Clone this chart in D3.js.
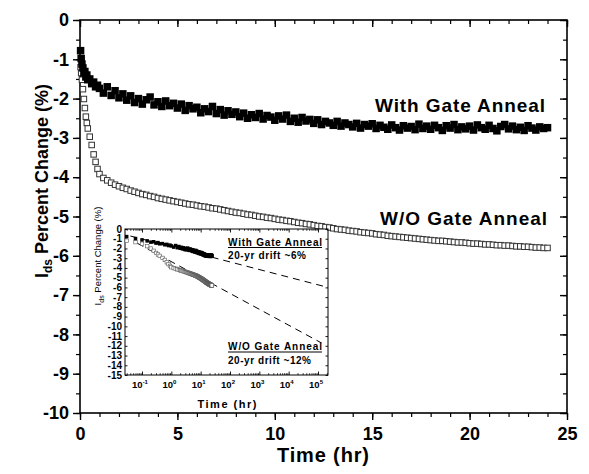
<!DOCTYPE html>
<html>
<head>
<meta charset="utf-8">
<script src="https://cdn.jsdelivr.net/npm/d3@7"></script>
<style>
  body { margin: 0; background: #fff; }
  svg { display: block; }
  text { font-family: Arial, "Liberation Sans", sans-serif; }
</style>
</head>
<body>
<div id="root"></div>
<script>
// sample times (hr), shared by both series
const hours = [
  0.03, 0.06, 0.1, 0.15, 0.2, 0.25, 0.3, 0.35, 0.4, 0.5, 0.6, 0.7, 0.8, 0.9,
  1, 1.2, 1.4, 1.6, 1.8,   2, 2.2, 2.4, 2.6, 2.8,   3, 3.2, 3.4, 3.6, 3.8,
  4, 4.2, 4.4, 4.6, 4.8,   5, 5.2, 5.4, 5.6, 5.8,   6, 6.2, 6.4, 6.6, 6.8,
  7, 7.2, 7.4, 7.6, 7.8,   8, 8.2, 8.4, 8.6, 8.8,   9, 9.2, 9.4, 9.6, 9.8,
  10, 10.2, 10.4, 10.6, 10.8,   11, 11.2, 11.4, 11.6, 11.8,   12, 12.2, 12.4, 12.6, 12.8,
  13, 13.2, 13.4, 13.6, 13.8,   14, 14.2, 14.4, 14.6, 14.8,   15, 15.2, 15.4, 15.6, 15.8,
  16, 16.2, 16.4, 16.6, 16.8,   17, 17.2, 17.4, 17.6, 17.8,   18, 18.2, 18.4, 18.6, 18.8,
  19, 19.2, 19.4, 19.6, 19.8,   20, 20.2, 20.4, 20.6, 20.8,   21, 21.2, 21.4, 21.6, 21.8,
  22, 22.2, 22.4, 22.6, 22.8,   23, 23.2, 23.4, 23.6, 23.8,   24
];

// With Gate Anneal (%)
const withAnneal = [
  -0.78, -0.98, -1.12, -1.22, -1.35, -1.31, -1.45, -1.40, -1.52, -1.50, -1.62, -1.58, -1.70, -1.66,
  -1.74, -1.86, -1.70, -1.92, -1.80,   -1.98, -1.88, -2.04, -1.93, -2.10,   -2.00, -2.14, -2.03, -1.96, -2.16,
  -2.08, -2.20, -2.06, -2.18, -2.12,   -2.24, -2.14, -2.30, -2.18, -2.26,   -2.22, -2.36, -2.26, -2.33, -2.20,
  -2.38, -2.28, -2.42, -2.31, -2.40,   -2.34, -2.46, -2.37, -2.50, -2.41,   -2.48, -2.38, -2.52, -2.43, -2.47,
  -2.55, -2.44, -2.52, -2.42, -2.58,   -2.50, -2.60, -2.48, -2.57, -2.53,   -2.63, -2.54, -2.66, -2.58, -2.62,
  -2.68, -2.58, -2.70, -2.62, -2.66,   -2.72, -2.63, -2.75, -2.66, -2.70,   -2.64, -2.76, -2.68, -2.73, -2.78,
  -2.67, -2.74, -2.80, -2.69, -2.75,   -2.71, -2.79, -2.65, -2.76, -2.70,   -2.78, -2.68, -2.74, -2.81, -2.69,
  -2.75, -2.66, -2.79, -2.72, -2.77,   -2.70, -2.80, -2.67, -2.74, -2.78,   -2.68, -2.76, -2.82, -2.71, -2.66,
  -2.77, -2.70, -2.79, -2.73, -2.81,   -2.69, -2.75, -2.80, -2.72, -2.76,   -2.74
];

// W/O Gate Anneal (%)
const withoutAnneal = [
  -1.20, -1.35, -1.52, -1.76, -2.01, -2.24, -2.46, -2.62, -2.76, -2.97, -3.18, -3.42, -3.61, -3.79,
  -3.92, -4.02, -4.08, -4.14, -4.19,   -4.23, -4.27, -4.30, -4.34, -4.37,   -4.40, -4.43, -4.45, -4.48, -4.50,
  -4.53, -4.55, -4.57, -4.59, -4.61,   -4.63, -4.65, -4.67, -4.69, -4.70,   -4.72, -4.74, -4.75, -4.77, -4.79,
  -4.80, -4.82, -4.84, -4.86, -4.88,   -4.90, -4.91, -4.93, -4.95, -4.96,   -4.98, -5.00, -5.01, -5.03, -5.04,
  -5.06, -5.08, -5.09, -5.11, -5.12,   -5.14, -5.16, -5.17, -5.19, -5.20,   -5.22, -5.24, -5.25, -5.27, -5.28,
  -5.30, -5.32, -5.33, -5.34, -5.36,   -5.37, -5.38, -5.40, -5.41, -5.42,   -5.43, -5.45, -5.46, -5.47, -5.49,
  -5.50, -5.51, -5.52, -5.53, -5.54,   -5.55, -5.56, -5.57, -5.58, -5.59,   -5.60, -5.61, -5.62, -5.62, -5.63,
  -5.64, -5.65, -5.66, -5.66, -5.67,   -5.68, -5.69, -5.69, -5.70, -5.71,   -5.71, -5.72, -5.73, -5.73, -5.74,
  -5.74, -5.75, -5.76, -5.76, -5.77,   -5.77, -5.78, -5.79, -5.79, -5.80,   -5.80
];

// 20-yr extrapolation lines in the inset
const withFitHours = [0.04, 219000];
const withFitPct = [-0.72, -6.0];
const woFitHours = [0.068, 130000];
const woFitPct = [-1.45, -11.7];

const mainXTicks = [0, 5, 10, 15, 20, 25];
const mainYTicks = [0, -1, -2, -3, -4, -5, -6, -7, -8, -9, -10];
const insetYTicks = [0, -1, -2, -3, -4, -5, -6, -7, -8, -9, -10, -11, -12, -13, -14, -15];
const insetXTicks = [0.1, 1, 10, 100, 1000, 10000, 100000];
const insetXExp = ["-1", "0", "1", "2", "3", "4", "5"];

const W = 589, H = 474;
const svg = d3.select("#root").append("svg").attr("width", W).attr("height", H);

// ---------- main plot ----------
const x = d3.scaleLinear().domain([0, 25]).range([80, 567]);
const y = d3.scaleLinear().domain([-10, 0]).range([413, 20]);

const styleAxis = (g, sw) => {
  g.select(".domain").remove();
  g.selectAll(".tick line").attr("stroke", "#000").attr("stroke-width", sw);
};

svg.append("g").attr("transform", "translate(0,413)")
  .call(d3.axisBottom(x).tickValues(d3.range(0, 26, 1)).tickSize(4).tickFormat(""))
  .call(g => styleAxis(g, 1.2));
svg.append("g").attr("transform", "translate(0,413)")
  .call(d3.axisBottom(x).tickValues(mainXTicks).tickSize(7).tickPadding(7).tickFormat(d3.format("d")))
  .call(g => styleAxis(g, 1.4))
  .call(g => g.selectAll("text").attr("font-size", 18).attr("font-weight", "bold").attr("fill", "#000"));

svg.append("g").attr("transform", "translate(80,0)")
  .call(d3.axisLeft(y).tickValues(d3.range(-10, 0.01, 0.5)).tickSize(4).tickFormat(""))
  .call(g => styleAxis(g, 1.2));
svg.append("g").attr("transform", "translate(80,0)")
  .call(d3.axisLeft(y).tickValues(mainYTicks).tickSize(7).tickPadding(4).tickFormat(d => d === 0 ? "0" : "-" + Math.abs(d)))
  .call(g => styleAxis(g, 1.4))
  .call(g => g.selectAll("text").attr("font-size", 18).attr("font-weight", "bold").attr("fill", "#000"));

svg.append("g").attr("transform", "translate(0,20)")
  .call(d3.axisTop(x).tickValues(d3.range(0, 26, 1)).tickSize(-4).tickFormat(""))
  .call(g => styleAxis(g, 1.2));
svg.append("g").attr("transform", "translate(0,20)")
  .call(d3.axisTop(x).tickValues(mainXTicks).tickSize(-7).tickFormat(""))
  .call(g => styleAxis(g, 1.4));
svg.append("g").attr("transform", "translate(567,0)")
  .call(d3.axisRight(y).tickValues(d3.range(-10, 0.01, 0.5)).tickSize(-4).tickFormat(""))
  .call(g => styleAxis(g, 1.2));
svg.append("g").attr("transform", "translate(567,0)")
  .call(d3.axisRight(y).tickValues(mainYTicks).tickSize(-7).tickFormat(""))
  .call(g => styleAxis(g, 1.4));

svg.append("rect").attr("x", 80).attr("y", 20).attr("width", 487).attr("height", 393)
  .attr("fill", "none").attr("stroke", "#000").attr("stroke-width", 1.6);

// W/O series: open squares
const sOpen = 5.5;
svg.append("g").selectAll("rect")
  .data(hours.map((t, i) => [t, withoutAnneal[i]]))
  .join("rect")
  .attr("x", d => x(d[0]) - sOpen / 2).attr("y", d => y(d[1]) - sOpen / 2)
  .attr("width", sOpen).attr("height", sOpen)
  .attr("fill", "#fff").attr("stroke", "#333").attr("stroke-width", 1);

// With gate anneal series: filled squares
const sFill = 7.5;
svg.append("g").selectAll("rect")
  .data(hours.map((t, i) => [t, withAnneal[i]]))
  .join("rect")
  .attr("x", d => x(d[0]) - sFill / 2).attr("y", d => y(d[1]) - sFill / 2)
  .attr("width", sFill).attr("height", sFill)
  .attr("fill", "#000");

svg.append("text").attr("x", 545).attr("y", 112).attr("text-anchor", "end")
  .attr("font-size", 19).attr("font-weight", "bold").attr("textLength", 170)
  .text("With Gate Anneal");
svg.append("text").attr("x", 547).attr("y", 225).attr("text-anchor", "end")
  .attr("font-size", 19).attr("font-weight", "bold").attr("textLength", 167)
  .text("W/O Gate Anneal");

svg.append("text").attr("x", 323).attr("y", 462).attr("text-anchor", "middle")
  .attr("font-size", 20).attr("font-weight", "bold").attr("textLength", 92).text("Time (hr)");

const yTitle = svg.append("text")
  .attr("transform", "translate(48,181) rotate(-90)")
  .attr("text-anchor", "middle").attr("font-weight", "bold").attr("font-size", 18);
yTitle.append("tspan").text("I");
yTitle.append("tspan").attr("font-size", 12).attr("dy", 4).text("ds");
yTitle.append("tspan").attr("dy", -4).text("  Percent Change (%)");

// ---------- inset ----------
const ix = d3.scaleLog().domain([0.0263, 219000]).range([125, 328]);
const iy = d3.scaleLinear().domain([-15, 0]).range([375, 229]);

svg.append("rect").attr("x", 125).attr("y", 229).attr("width", 203).attr("height", 146)
  .attr("fill", "#fff").attr("stroke", "none");

const minorLog = [];
[0.01, 0.1, 1, 10, 100, 1000, 10000, 100000].forEach(dec => {
  for (let k = 2; k <= 9; k++) {
    const v = dec * k;
    if (v > 0.0263 && v < 219000) minorLog.push(v);
  }
});

[[375, d3.axisBottom], [229, d3.axisTop]].forEach(([py, ax]) => {
  svg.append("g").attr("transform", `translate(0,${py})`)
    .call(ax(ix).tickValues(minorLog).tickSize(-1.8).tickFormat(""))
    .call(g => styleAxis(g, 0.8));
  svg.append("g").attr("transform", `translate(0,${py})`)
    .call(ax(ix).tickValues(insetXTicks).tickSize(-3.5).tickFormat(""))
    .call(g => styleAxis(g, 0.9));
});
svg.append("g").attr("transform", "translate(125,0)")
  .call(d3.axisLeft(iy).tickValues(insetYTicks).tickSize(-2.5).tickFormat(""))
  .call(g => styleAxis(g, 0.9));
svg.append("g").attr("transform", "translate(328,0)")
  .call(d3.axisRight(iy).tickValues(insetYTicks).tickSize(-2.5).tickFormat(""))
  .call(g => styleAxis(g, 0.9));

svg.append("rect").attr("x", 125).attr("y", 229).attr("width", 203).attr("height", 146)
  .attr("fill", "none").attr("stroke", "#000").attr("stroke-width", 1);

svg.append("g").selectAll("text").data(insetYTicks).join("text")
  .attr("x", 122).attr("y", d => iy(d)).attr("dy", "0.35em")
  .attr("text-anchor", "end").attr("font-size", 10).attr("font-weight", "bold")
  .text(d => d === 0 ? "0" : "-" + Math.abs(d));

const xl = svg.append("g").selectAll("text").data(insetXTicks).join("text")
  .attr("x", d => ix(d) - 2).attr("y", 388)
  .attr("text-anchor", "middle").attr("font-size", 9.5).attr("font-weight", "bold");
xl.append("tspan").text("10");
xl.append("tspan").attr("font-size", 6).attr("dy", -4.5).text((d, i) => insetXExp[i]);

svg.append("text").attr("x", 227).attr("y", 408).attr("text-anchor", "middle")
  .attr("font-size", 11).attr("font-weight", "bold").attr("textLength", 59).text("Time (hr)");

const iTitle = svg.append("text")
  .attr("transform", "translate(101,256) rotate(-90)")
  .attr("text-anchor", "middle").attr("font-size", 9.5);
iTitle.append("tspan").text("I");
iTitle.append("tspan").attr("font-size", 7).attr("dy", 2.5).text("ds");
iTitle.append("tspan").attr("dy", -2.5).text(" Percent Change (%)");

const line = d3.line().x(d => ix(d[0])).y(d => iy(d[1]));
svg.append("path").attr("d", line(withFitHours.map((t, i) => [t, withFitPct[i]])))
  .attr("fill", "none").attr("stroke", "#000").attr("stroke-width", 1).attr("stroke-dasharray", "7,5");
svg.append("path").attr("d", line(woFitHours.map((t, i) => [t, woFitPct[i]])))
  .attr("fill", "none").attr("stroke", "#000").attr("stroke-width", 1).attr("stroke-dasharray", "7,5");

const sIn = 3.5;
svg.append("g").selectAll("rect")
  .data(hours.map((t, i) => [t, withoutAnneal[i]]))
  .join("rect")
  .attr("x", d => ix(d[0]) - sIn / 2).attr("y", d => iy(d[1]) - sIn / 2)
  .attr("width", sIn).attr("height", sIn)
  .attr("fill", "#fff").attr("stroke", "#555").attr("stroke-width", 0.6);
svg.append("g").selectAll("rect")
  .data(hours.map((t, i) => [t, withAnneal[i]]))
  .join("rect")
  .attr("x", d => ix(d[0]) - sIn / 2).attr("y", d => iy(d[1]) - sIn / 2)
  .attr("width", sIn).attr("height", sIn)
  .attr("fill", "#000");

const note = (x0, yb, t1, t2, w1, w2) => {
  svg.append("text").attr("x", x0).attr("y", yb).attr("font-size", 10).attr("font-weight", "bold")
    .attr("textLength", w1).text(t1);
  svg.append("line").attr("x1", x0).attr("x2", x0 + w1).attr("y1", yb + 2).attr("y2", yb + 2)
    .attr("stroke", "#000").attr("stroke-width", 1);
  svg.append("text").attr("x", x0).attr("y", yb + 13.5).attr("font-size", 10).attr("font-weight", "bold")
    .attr("textLength", w2).text(t2);
};
note(228, 245.5, "With Gate Anneal", "20-yr drift ~6%", 94, 78);
note(228, 350, "W/O Gate Anneal", "20-yr drift ~12%", 94, 83);
</script>
</body>
</html>
